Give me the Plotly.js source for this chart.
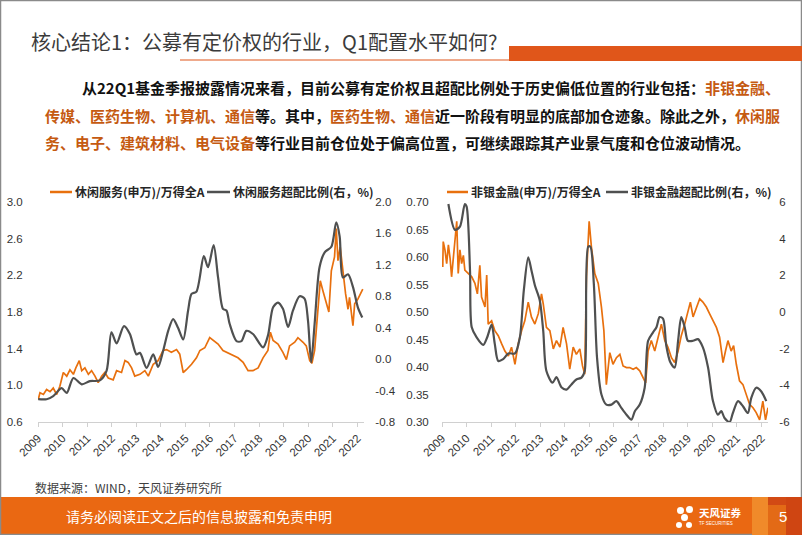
<!DOCTYPE html>
<html><head><meta charset="utf-8">
<script src="https://cdn.plot.ly/plotly-3.0.1.min.js"></script>
<style>html,body{margin:0;padding:0;background:#fff;}#chart{width:802px;height:535px;}</style>
</head><body><div id="chart"></div>
<script>
// ---------- DATA ----------
const yearTicks = [2009,2010,2011,2012,2013,2014,2015,2016,2017,2018,2019,2020,2021,2022];
const yearLabels = ['2009','2010','2011','2012','2013','2014','2015','2016','2017','2018','2019','2020','2021','2022'];

// Left chart: 休闲服务(申万)/万得全A (left axis)
const leisureRatioX = [2009.01,2009.08,2009.22,2009.35,2009.49,2009.62,2009.76,2009.89,2010.03,2010.17,2010.30,2010.44,2010.54,2010.68,2010.78,2010.91,2011.05,2011.18,2011.32,2011.45,2011.59,2011.72,2011.86,2012.06,2012.20,2012.40,2012.54,2012.67,2012.81,2012.94,2013.15,2013.35,2013.49,2013.69,2013.89,2014.09,2014.23,2014.43,2014.64,2014.77,2014.91,2015.04,2015.25,2015.45,2015.59,2015.79,2015.99,2016.13,2016.33,2016.53,2016.74,2016.94,2017.14,2017.35,2017.55,2017.75,2017.96,2018.16,2018.36,2018.46,2018.57,2018.77,2018.97,2019.11,2019.24,2019.45,2019.58,2019.79,2019.92,2020.06,2020.15,2020.26,2020.40,2020.49,2020.60,2020.73,2020.84,2020.94,2021.07,2021.14,2021.21,2021.30,2021.41,2021.52,2021.62,2021.68,2021.82,2021.89,2022.02,2022.16,2022.22];
const leisureRatio = [0.845,0.92,0.90,0.955,0.93,0.97,0.90,0.99,1.14,1.10,1.17,1.12,1.19,1.27,1.16,1.19,1.12,1.16,1.10,1.03,1.10,1.14,1.08,1.06,1.16,1.14,1.27,1.25,1.19,1.10,1.12,1.16,1.10,1.23,1.27,1.38,1.39,1.36,1.39,1.34,1.14,1.17,1.23,1.30,1.38,1.41,1.52,1.49,1.45,1.38,1.35,1.32,1.30,1.25,1.16,1.16,1.19,1.30,1.38,1.58,1.49,1.45,1.36,1.28,1.43,1.47,1.52,1.47,1.43,1.27,1.24,1.38,1.81,2.14,2.03,1.91,1.80,2.25,2.40,2.71,2.36,2.51,2.22,2.00,1.83,1.96,1.65,1.89,1.94,2.03,2.05];

// Left chart: 休闲服务超配比例(右，%) (right axis)
const leisureOverX = [2009.01,2009.35,2009.62,2009.96,2010.17,2010.44,2010.78,2011.11,2011.52,2011.79,2011.99,2012.20,2012.50,2012.74,2013.01,2013.15,2013.42,2013.69,2013.89,2014.09,2014.30,2014.50,2014.70,2014.91,2015.11,2015.25,2015.45,2015.75,2015.92,2016.15,2016.33,2016.53,2016.67,2016.80,2017.08,2017.28,2017.48,2017.75,2018.16,2018.36,2018.57,2018.77,2018.97,2019.18,2019.38,2019.65,2019.85,2019.99,2020.12,2020.26,2020.46,2020.67,2020.94,2021.14,2021.28,2021.41,2021.62,2021.82,2022.02,2022.20];
const leisureOver = [-0.51,-0.51,-0.47,-0.37,-0.43,-0.24,-0.32,-0.28,-0.27,-0.15,0.34,0.20,0.42,0.32,0.06,0.08,-0.11,0.06,-0.10,0.10,0.36,0.51,0.40,0.25,0.62,0.83,0.86,1.31,1.17,1.45,1.04,0.64,0.62,0.45,0.23,0.23,0.36,0.32,0.15,0.30,0.66,0.72,0.64,0.41,0.62,0.80,0.77,0.49,-0.04,0.45,1.17,1.36,1.43,1.74,1.56,1.04,1.08,0.92,0.66,0.53];

// Right chart: 非银金融(申万)/万得全A (left axis)
const finRatioX = [2009.03,2009.05,2009.12,2009.19,2009.26,2009.33,2009.39,2009.46,2009.53,2009.60,2009.66,2009.73,2009.80,2009.87,2009.93,2010.07,2010.21,2010.34,2010.44,2010.54,2010.61,2010.75,2010.82,2010.88,2011.02,2011.15,2011.29,2011.43,2011.56,2011.70,2011.83,2011.97,2012.10,2012.24,2012.37,2012.51,2012.64,2012.78,2012.92,2013.05,2013.12,2013.25,2013.39,2013.53,2013.66,2013.80,2013.93,2014.07,2014.20,2014.34,2014.47,2014.61,2014.72,2014.81,2014.88,2014.99,2015.08,2015.22,2015.36,2015.49,2015.59,2015.69,2015.83,2015.96,2016.10,2016.24,2016.37,2016.51,2016.64,2016.78,2016.91,2017.05,2017.18,2017.29,2017.39,2017.52,2017.66,2017.79,2017.93,2018.07,2018.20,2018.34,2018.47,2018.61,2018.74,2018.88,2019.01,2019.11,2019.22,2019.35,2019.49,2019.62,2019.76,2019.89,2020.03,2020.17,2020.30,2020.44,2020.54,2020.64,2020.77,2020.87,2020.98,2021.11,2021.25,2021.38,2021.52,2021.66,2021.79,2021.93,2022.06,2022.17,2022.27];
const finRatio = [0.582,0.628,0.613,0.588,0.622,0.597,0.564,0.600,0.640,0.665,0.570,0.613,0.588,0.603,0.576,0.570,0.564,0.552,0.533,0.585,0.527,0.509,0.567,0.478,0.484,0.466,0.457,0.442,0.429,0.420,0.436,0.405,0.442,0.466,0.484,0.518,0.491,0.478,0.497,0.533,0.515,0.472,0.466,0.433,0.448,0.436,0.472,0.442,0.396,0.436,0.423,0.433,0.402,0.387,0.564,0.665,0.619,0.570,0.552,0.509,0.466,0.368,0.426,0.405,0.417,0.423,0.402,0.399,0.399,0.396,0.399,0.393,0.381,0.371,0.429,0.448,0.429,0.454,0.478,0.448,0.436,0.417,0.408,0.429,0.457,0.478,0.503,0.518,0.491,0.509,0.524,0.518,0.509,0.497,0.484,0.472,0.454,0.408,0.429,0.448,0.429,0.439,0.405,0.375,0.368,0.350,0.332,0.326,0.317,0.304,0.338,0.304,0.326];

// Right chart: 非银金融超配比例(右，%) (right axis)
const finOverX = [2009.26,2009.53,2009.73,2009.93,2010.00,2010.14,2010.21,2010.41,2010.68,2010.84,2011.02,2011.15,2011.29,2011.49,2011.70,2011.97,2012.17,2012.33,2012.51,2012.64,2012.78,2012.98,2013.12,2013.25,2013.50,2013.66,2013.86,2014.07,2014.27,2014.47,2014.68,2014.81,2014.95,2015.04,2015.18,2015.31,2015.49,2015.69,2015.90,2016.10,2016.30,2016.51,2016.71,2016.85,2017.05,2017.25,2017.39,2017.59,2017.73,2017.86,2018.00,2018.13,2018.30,2018.47,2018.61,2018.74,2018.88,2019.01,2019.22,2019.42,2019.62,2019.83,2020.03,2020.23,2020.37,2020.50,2020.71,2020.84,2021.05,2021.25,2021.45,2021.59,2021.79,2021.99,2022.20];
const finOver = [5.89,4.48,4.66,5.89,5.76,2.28,-0.83,-1.38,-1.79,-1.38,-0.69,-1.75,-2.67,-2.57,-2.26,-2.26,-1.38,1.18,2.98,2.28,1.46,0.63,-1.02,-3.22,-3.86,-3.55,-4.10,-4.23,-3.95,-3.68,-3.58,-3.22,3.56,3.56,1.55,-2.48,-4.50,-5.05,-5.05,-4.86,-5.23,-5.60,-5.87,-5.41,-5.05,-4.13,-1.57,-1.11,-0.83,-0.28,-0.38,-1.84,-2.76,-3.03,-1.57,-0.28,-0.83,-1.57,-1.57,-1.48,-1.93,-3.03,-4.86,-5.60,-5.41,-5.78,-6.00,-5.51,-4.86,-5.14,-5.51,-4.68,-4.13,-4.32,-4.86];

// Axis tick labels
const lLeftTicks = [0.6,1.0,1.4,1.8,2.2,2.6,3.0];
const lLeftText = ['0.6','1.0','1.4','1.8','2.2','2.6','3.0'];
const lRightTicks = [-0.8,-0.4,0,0.4,0.8,1.2,1.6,2.0];
const lRightText = ['-0.8','-0.4','0.0','0.4','0.8','1.2','1.6','2.0'];
const rLeftTicks = [0.30,0.35,0.40,0.45,0.50,0.55,0.60,0.65,0.70];
const rLeftText = ['0.30','0.35','0.40','0.45','0.50','0.55','0.60','0.65','0.70'];
const rRightTicks = [-6,-4,-2,0,2,4,6];
const rRightText = ['-6','-4','-2','0','2','4','6'];

const seriesNames = ['休闲服务(申万)/万得全A','休闲服务超配比例(右，%)','非银金融(申万)/万得全A','非银金融超配比例(右，%)'];

// ---------- STYLE / LAYOUT ----------
const W = 802, H = 535;
const X = p => p / W, Y = p => 1 - p / H;
const ORANGE = '#E8700E', GRAY = '#4F5050', ACC = '#C55A11';
const NUMF = 'Liberation Sans, Arial, sans-serif';
const CJK = 'Noto Sans CJK SC, sans-serif';
const tickF = {family: NUMF, size: 11.5, color: '#333333'};

const traces = [
  {x: leisureRatioX, y: leisureRatio, xaxis: 'x', yaxis: 'y', mode: 'lines', name: seriesNames[0], line: {color: ORANGE, width: 1.7}},
  {x: leisureOverX, y: leisureOver, xaxis: 'x', yaxis: 'y2', mode: 'lines', name: seriesNames[1], line: {color: GRAY, width: 2.2, shape: 'spline', smoothing: 0.8}},
  {x: finRatioX, y: finRatio, xaxis: 'x2', yaxis: 'y3', mode: 'lines', name: seriesNames[2], line: {color: ORANGE, width: 1.7}},
  {x: finOverX, y: finOver, xaxis: 'x2', yaxis: 'y4', mode: 'lines', name: seriesNames[3], line: {color: GRAY, width: 2.2, shape: 'spline', smoothing: 0.8}}
];

const xBase = {range: [2009, 2022.27], tickvals: yearTicks, ticktext: yearLabels, tickangle: -45,
  ticks: 'outside', ticklen: 4, tickcolor: '#d0d0d0', showline: true, linecolor: '#d0d0d0', linewidth: 1,
  showgrid: false, zeroline: false, tickfont: tickF, fixedrange: true};
const yBase = {showgrid: false, zeroline: false, showline: false, ticks: 'outside', tickcolor: 'rgba(0,0,0,0)', tickfont: tickF, fixedrange: true};
const yDom = [Y(422), Y(202)];

const shapes = [
  // slide border
  {type: 'rect', xref: 'paper', yref: 'paper', x0: X(0.5), x1: X(801.5), y0: Y(534.5), y1: Y(0.5), line: {color: '#8a8a8a', width: 1.5}},
  // title decorations
  {type: 'rect', xref: 'paper', yref: 'paper', x0: X(509), x1: X(802), y0: Y(61), y1: Y(46), fillcolor: '#E0561A', line: {width: 0}},
  {type: 'line', xref: 'paper', yref: 'paper', x0: X(180), x1: X(509), y0: Y(60), y1: Y(60), line: {color: '#E0561A', width: 1.2}},
  // legends
  {type: 'line', xref: 'paper', yref: 'paper', x0: X(50), x1: X(72), y0: Y(192), y1: Y(192), line: {color: ORANGE, width: 2.5}},
  {type: 'line', xref: 'paper', yref: 'paper', x0: X(207), x1: X(230), y0: Y(192), y1: Y(192), line: {color: GRAY, width: 2.5}},
  {type: 'line', xref: 'paper', yref: 'paper', x0: X(447), x1: X(468), y0: Y(192), y1: Y(192), line: {color: ORANGE, width: 2.5}},
  {type: 'line', xref: 'paper', yref: 'paper', x0: X(606), x1: X(628), y0: Y(192), y1: Y(192), line: {color: GRAY, width: 2.5}},
  // footer band
  {type: 'rect', xref: 'paper', yref: 'paper', x0: 0, x1: 1, y0: 0, y1: Y(497), fillcolor: '#EA6812', line: {width: 0}, layer: 'below'},
  {type: 'rect', xref: 'paper', yref: 'paper', x0: X(752), x1: X(768), y0: Y(535), y1: Y(497), fillcolor: '#F08A2A', line: {width: 0}},
  {type: 'rect', xref: 'paper', yref: 'paper', x0: X(768), x1: X(786), y0: Y(535), y1: Y(497), fillcolor: '#E36A16', line: {width: 0}},
  {type: 'rect', xref: 'paper', yref: 'paper', x0: X(768), x1: X(786), y0: Y(505), y1: Y(497), fillcolor: '#D24A14', line: {width: 0}},
  {type: 'rect', xref: 'paper', yref: 'paper', x0: X(786), x1: X(802), y0: Y(535), y1: Y(497), fillcolor: '#CF4512', line: {width: 0}},
  // logo petals
  {type: 'circle', xref: 'paper', yref: 'paper', x0: X(677), x1: X(684), y0: Y(514), y1: Y(507), fillcolor: '#fff', line: {width: 0}},
  {type: 'circle', xref: 'paper', yref: 'paper', x0: X(686), x1: X(693), y0: Y(513), y1: Y(506), fillcolor: '#fff', line: {width: 0}},
  {type: 'circle', xref: 'paper', yref: 'paper', x0: X(681), x1: X(688), y0: Y(521), y1: Y(514), fillcolor: '#fff', line: {width: 0}},
  {type: 'circle', xref: 'paper', yref: 'paper', x0: X(676), x1: X(682), y0: Y(528), y1: Y(522), fillcolor: '#fff', line: {width: 0}},
  {type: 'circle', xref: 'paper', yref: 'paper', x0: X(686), x1: X(692), y0: Y(528), y1: Y(522), fillcolor: '#fff', line: {width: 0}}
];

function ann(x, y, text, size, color, opts) {
  return Object.assign({xref: 'paper', yref: 'paper', x: X(x), y: Y(y), text: text, showarrow: false,
    xanchor: 'left', yanchor: 'middle', font: {family: CJK, size: size, color: color}}, opts || {});
}
const o = s => '<span style="color:' + ACC + '">' + s + '</span>';
const bold = (size, color) => ({font: {family: CJK, size: size, color: color, weight: 'bold'}});

const annotations = [
  ann(29, 41, '核心结论1：公募有定价权的行业，Q1配置水平如何?', 20, '#3b3b3b'),
  ann(80, 88, '从22Q1基金季报披露情况来看，目前公募有定价权且超配比例处于历史偏低位置的行业包括：' + o('非银金融、'), 15, '#111', bold(15, '#111')),
  ann(43, 115, o('传媒、医药生物、计算机、通信') + '等。其中，' + o('医药生物、通信') + '近一阶段有明显的底部加仓迹象。除此之外，' + o('休闲服'), 15, '#111', bold(15, '#111')),
  ann(43, 142, o('务、电子、建筑材料、电气设备') + '等行业目前仓位处于偏高位置，可继续跟踪其产业景气度和仓位波动情况。', 15, '#111', bold(15, '#111')),
  ann(73, 192, seriesNames[0], 12, '#262626', bold(12, '#262626')),
  ann(231, 192, seriesNames[1], 12, '#262626', bold(12, '#262626')),
  ann(469, 192, seriesNames[2], 12, '#262626', bold(12, '#262626')),
  ann(629, 192, seriesNames[3], 12, '#262626', bold(12, '#262626')),
  ann(33, 487, '数据来源：WIND，天风证券研究所', 12, '#404040'),
  ann(64, 516, '请务必阅读正文之后的信息披露和免责申明', 14, '#ffffff'),
  ann(697, 512, '天风证券', 10.5, '#ffffff', bold(10.5, '#ffffff')),
  ann(697, 523, 'TF SECURITIES', 4.5, '#ffffff', {font: {family: NUMF, size: 4.5, color: '#fff'}}),
  ann(777, 516, '5', 15, '#ffffff', {font: {family: NUMF, size: 15, color: '#fff'}})
];

const layout = {
  width: W, height: H, margin: {l: 0, r: 0, t: 0, b: 0}, paper_bgcolor: '#ffffff', plot_bgcolor: 'rgba(0,0,0,0)',
  showlegend: false,
  xaxis: Object.assign({}, xBase, {domain: [X(38), X(364)], anchor: 'y'}),
  yaxis: Object.assign({}, yBase, {domain: yDom, range: [0.6, 3.0], tickvals: lLeftTicks, ticktext: lLeftText, ticklen: 12, anchor: 'x'}),
  yaxis2: Object.assign({}, yBase, {overlaying: 'y', side: 'right', anchor: 'x', range: [-0.8, 2.0], tickvals: lRightTicks, ticktext: lRightText, ticklen: 8}),
  xaxis2: Object.assign({}, xBase, {domain: [X(442), X(768)], anchor: 'y3'}),
  yaxis3: Object.assign({}, yBase, {domain: yDom, range: [0.30, 0.70], tickvals: rLeftTicks, ticktext: rLeftText, ticklen: 10, anchor: 'x2'}),
  yaxis4: Object.assign({}, yBase, {overlaying: 'y3', side: 'right', anchor: 'x2', range: [-6, 6], tickvals: rRightTicks, ticktext: rRightText, ticklen: 8}),
  shapes: shapes,
  annotations: annotations
};

Plotly.newPlot('chart', traces, layout, {staticPlot: true, displayModeBar: false});
</script></body></html>
